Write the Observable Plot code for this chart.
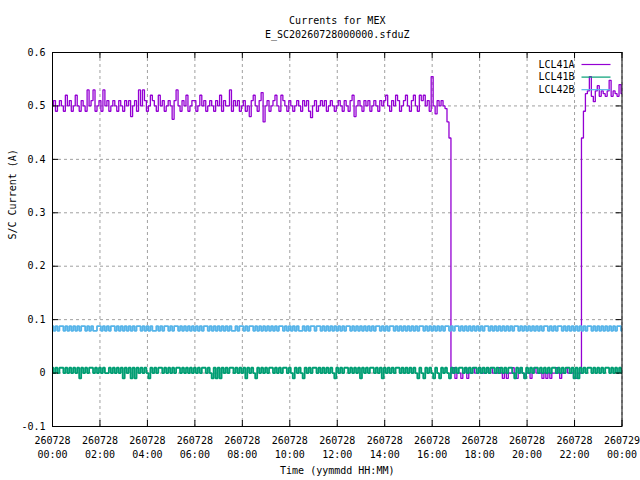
<!DOCTYPE html>
<html><head><meta charset="utf-8">
<script src="https://cdn.jsdelivr.net/npm/d3@7"></script>
<script src="https://cdn.jsdelivr.net/npm/@observablehq/plot@0.6"></script>
<style>html,body{margin:0;padding:0;background:#fff}svg{display:block}</style>
</head><body><div id="chart"></div>
<script>
const title = "Currents for MEX";
const subtitle = "E_SC20260728000000.sfduZ";
const xLabel = "Time (yymmdd HH:MM)";
const yLabel = "S/C Current (A)";
const seriesNames = ["LCL41A", "LCL41B", "LCL42B"];
const seriesColors = ["#9400d3", "#009e73", "#56b4e9"];
const startTime = "2026-07-28T00:00:00Z";
const endTime = "2026-07-29T00:00:00Z";
const sampleMinutes = 5;
const yTicks = [-0.1, 0, 0.1, 0.2, 0.3, 0.4, 0.5, 0.6];

// currents in mA, one row per hour (12 samples of 5 minutes)
const lcl41A_mA = [
  500,510,490,500,510,500,490,520,500,510,490,500,
  520,500,490,510,500,490,530,500,510,530,490,500,
  510,490,530,500,510,490,500,510,500,490,510,500,
  490,510,500,510,480,500,510,490,530,500,530,510,
  490,500,520,510,500,490,520,500,510,490,500,510,
  500,475,510,530,500,490,510,500,520,490,500,510,
  510,490,500,520,500,510,490,500,510,500,490,510,
  500,520,490,510,500,500,530,490,510,500,510,490,
  500,510,490,500,480,510,520,500,490,510,525,470,
  500,510,490,500,510,520,500,490,520,510,500,490,
  510,500,490,500,510,500,490,510,500,510,490,478,
  500,510,490,500,510,500,510,490,500,510,500,490,
  500,510,500,490,510,500,490,510,520,480,500,510,
  500,490,510,500,510,490,500,510,500,490,510,500,
  510,520,500,490,510,500,520,510,490,500,510,520,
  500,490,510,520,500,490,520,510,520,500,510,490,
  555,500,485,510,500,510,500,495,470,440,0,10,
  -10,0,0,-10,0,10,-10,0,0,10,0,0,
  10,0,0,0,10,0,10,0,0,0,10,0,
  -10,0,-10,0,0,10,0,-10,0,10,0,-10,
  0,0,-10,0,10,0,0,0,-10,0,-10,0,
  -10,0,0,10,0,-10,0,0,10,0,0,0,
  -10,-10,0,0,440,490,523,528,555,518,508,528,
  538,518,528,523,518,528,548,518,528,523,518,540,
  523
];
const lcl41B_mA = [
  10,0,10,0,10,10,0,10,0,10,0,10,
  0,10,-10,10,0,10,0,10,10,0,10,0,
  10,0,10,0,0,10,0,10,0,10,0,10,
  -10,10,0,10,-10,10,-10,10,0,10,0,10,
  0,-10,10,0,10,0,10,10,0,10,0,10,
  0,10,0,10,10,0,10,0,10,0,10,0,
  10,0,10,0,10,10,0,10,0,-10,10,-10,
  10,-10,10,0,10,0,10,10,0,10,0,10,
  0,10,-10,10,0,10,0,-10,10,0,10,0,
  10,0,10,10,0,10,0,10,0,10,10,0,
  10,0,-10,10,0,10,0,-10,10,0,10,0,
  10,10,0,10,0,10,0,10,0,10,0,-10,
  10,0,10,0,10,10,0,10,0,10,0,10,
  -10,10,0,10,0,10,10,0,10,0,10,-10,
  10,0,10,0,10,0,10,10,0,10,0,10,
  0,10,0,10,0,-10,10,0,-10,10,0,10,
  0,-10,10,0,-10,10,0,10,0,-10,10,0,
  10,0,10,10,0,10,0,10,0,10,10,0,
  10,0,10,0,10,0,10,10,0,10,0,10,
  0,10,0,10,10,0,-10,10,0,10,0,-10,
  10,0,10,0,10,10,0,10,0,10,0,10,
  0,10,10,0,10,0,10,0,10,10,0,10,
  -10,10,-10,10,0,10,0,10,10,0,10,0,
  10,0,10,0,10,10,0,10,0,10,0,10,
  0
];
const lcl42B_mA = [
  88,79,88,79,88,88,79,88,79,88,79,88,
  79,88,79,88,88,79,88,79,88,79,79,88,
  88,79,88,79,88,79,88,88,79,88,79,88,
  79,88,79,88,79,88,79,88,88,79,88,79,
  88,79,88,79,79,88,79,88,79,88,88,79,
  88,79,88,88,79,88,79,88,79,88,79,88,
  79,88,79,88,79,88,88,79,88,79,88,79,
  88,79,88,79,88,79,88,79,79,88,79,88,
  88,79,88,79,88,88,79,88,79,88,79,88,
  79,88,79,88,79,88,79,88,88,79,88,79,
  88,79,88,79,88,79,79,88,79,88,79,88,
  88,79,88,88,79,88,79,88,79,88,79,88,
  79,88,79,88,79,88,88,79,88,79,88,79,
  88,79,88,79,88,79,88,79,88,88,79,88,
  79,88,79,88,88,79,88,79,88,79,88,79,
  88,79,88,79,88,79,88,88,79,88,79,88,
  79,88,79,88,79,88,79,88,88,79,88,79,
  88,88,79,88,79,88,79,88,79,88,79,88,
  79,88,79,88,88,79,88,79,88,79,88,79,
  88,79,88,79,88,79,88,88,79,88,79,88,
  79,88,79,88,79,88,79,88,79,88,88,79,
  88,79,88,79,88,88,79,88,79,88,79,88,
  79,88,79,88,79,88,79,88,88,79,88,79,
  88,79,88,79,88,79,88,79,88,79,88,88,
  79
];

const t0 = new Date(startTime);
const t1 = new Date(endTime);
const rows = [];
[lcl41A_mA, lcl41B_mA, lcl42B_mA].forEach((arr, k) =>
  arr.forEach((v, i) => rows.push({
    series: seriesNames[k],
    time: new Date(+t0 + i * sampleMinutes * 60000),
    current: v / 1000
  })));
const xTicks = d3.utcHour.range(t0, new Date(+t1 + 1), 2);

const W = 640, H = 480, mL = 52, mR = 18.5, mT = 52, mB = 54;
const frameW = W - mL - mR, frameH = H - mT - mB;
const gridStyle = {stroke: "#a0a0a0", strokeOpacity: 1, strokeWidth: 1, strokeDasharray: "3,3"};
const hline = {draw(ctx) { ctx.moveTo(-14.5, 0); ctx.lineTo(14.5, 0); }};
const lineStyle = {x: "time", y: "current", z: "series", stroke: "series", curve: "step", strokeLinejoin: "miter", strokeLinecap: "butt"};

const chart = Plot.plot({
  width: W, height: H,
  marginLeft: mL, marginRight: mR, marginTop: mT, marginBottom: mB,
  style: {fontFamily: "'DejaVu Sans Mono', monospace", fontSize: "10px", fontWeight: "normal", background: "#fff", color: "#000"},
  x: {type: "utc", domain: [t0, t1]},
  y: {domain: [-0.1, 0.6]},
  color: {domain: seriesNames, range: seriesColors},
  marks: [
    Plot.gridX(xTicks, gridStyle),
    Plot.gridY(yTicks, gridStyle),
    Plot.line(rows.filter(d => d.series === seriesNames[0]), {...lineStyle, strokeWidth: 1.3}),
    Plot.line(rows.filter(d => d.series !== seriesNames[0]), {...lineStyle, strokeWidth: 1.8}),
    Plot.tickX(xTicks, {x: d => d, insetTop: frameH - 6, stroke: "#000"}),
    Plot.tickX(xTicks, {x: d => d, insetBottom: frameH - 6, stroke: "#000"}),
    Plot.tickY(yTicks, {y: d => d, insetRight: frameW - 6, stroke: "#000"}),
    Plot.tickY(yTicks, {y: d => d, insetLeft: frameW - 6, stroke: "#000"}),
    Plot.frame({stroke: "#000", strokeWidth: 1}),
    Plot.axisX(xTicks, {tickSize: 0, tickPadding: 8, lineHeight: 1.4, tickFormat: d3.utcFormat("%y%m%d\n%H:%M"), label: null}),
    Plot.axisY(yTicks, {tickSize: 0, tickPadding: 7, tickFormat: d => String(+d.toFixed(1)), label: null}),
    Plot.text([xLabel], {frameAnchor: "bottom", dy: 44, lineAnchor: "middle", fontWeight: "normal"}),
    Plot.text([yLabel], {frameAnchor: "left", dx: -40, rotate: -90, lineAnchor: "middle", fontWeight: "normal"}),
    Plot.text([title], {frameAnchor: "top", dy: -32, lineAnchor: "middle"}),
    Plot.text([subtitle], {frameAnchor: "top", dy: -18, lineAnchor: "middle"}),
    ...seriesNames.map((name, k) => Plot.text([name], {frameAnchor: "top-right", dx: -47.5, dy: 12 + k * 12.6, textAnchor: "end", lineAnchor: "middle"})),
    ...seriesNames.map((name, k) => Plot.dot([name], {frameAnchor: "top-right", dx: -26, dy: 12 + k * 12.6, symbol: hline, stroke: seriesColors[k], fill: "none", strokeWidth: 1.2}))
  ]
});
document.getElementById("chart").appendChild(chart);
</script>
</body></html>
